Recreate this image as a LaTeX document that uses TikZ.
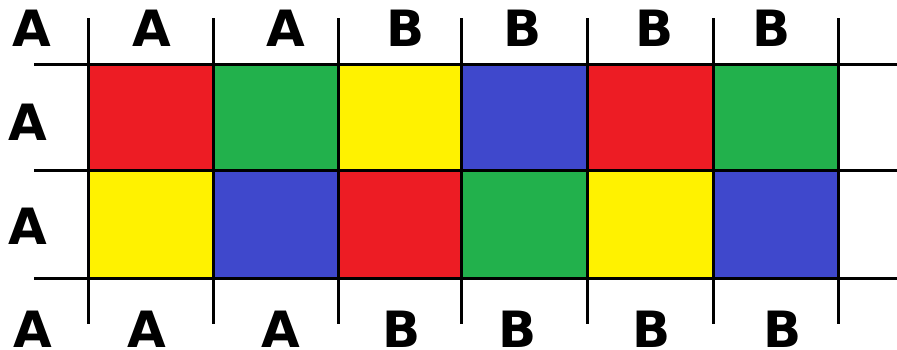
\documentclass[tikz,border=0pt]{standalone}
\usepackage{fontspec}
\setmainfont{DejaVu Sans}
\usepackage{xcolor}
\usepackage{tikz}
\usetikzlibrary{positioning}

\definecolor{cellred}{HTML}{ED1C24}
\definecolor{cellgreen}{HTML}{22B14C}
\definecolor{cellyellow}{HTML}{FFF200}
\definecolor{cellblue}{HTML}{3F48CC}

\tikzset{
  gridline/.style={line width=3pt, black},
  letter/.style={inner sep=0pt, font=\fontsize{50}{50}\selectfont\bfseries}
}

\begin{document}
\begin{tikzpicture}[x=1pt, y=-1pt]
  \useasboundingbox (0,0) rectangle (897,349);
  % cells, upper row
  \foreach \xa/\xb/\col in {88/213/cellred, 213/338/cellgreen, 338/461/cellyellow,
                            461/587/cellblue, 587/713/cellred, 713/838/cellgreen}
    \fill[\col] (\xa,64) rectangle (\xb,170);
  % cells, lower row
  \foreach \xa/\xb/\col in {88/213/cellyellow, 213/338/cellblue, 338/461/cellred,
                            461/587/cellgreen, 587/713/cellyellow, 713/838/cellblue}
    \fill[\col] (\xa,170) rectangle (\xb,278);
  % grid lines
  \foreach \y in {64,170,278}
    \draw[gridline] (34,\y) -- (897,\y);
  \foreach \x in {88,213,338,461,587,713,838}
    \draw[gridline] (\x,18) -- (\x,324);
  % top labels
  \node[letter] (t0) at (32,28) {A};
  \node[letter] (t1) at (152,28) {A};
  \node[letter] (t2) at (286,28) {A};
  \node[letter] (t3) at (406,28) {B};
  \node[letter] (t4) at (523,28) {B};
  \node[letter] (t5) at (655,28) {B};
  \node[letter] (t6) at (772,28) {B};
  % left labels
  \node[letter] (l1) at (28,122) {A};
  \node[letter] (l2) at (28,226) {A};
  % bottom labels
  \node[letter] (b0) at (33,329) {A};
  \node[letter] (b1) at (147,329) {A};
  \node[letter] (b2) at (281,329) {A};
  \node[letter] (b3) at (402,329) {B};
  \node[letter] (b4) at (518,329) {B};
  \node[letter] (b5) at (652,329) {B};
  \node[letter] (b6) at (783,329) {B};
\end{tikzpicture}
\end{document}
